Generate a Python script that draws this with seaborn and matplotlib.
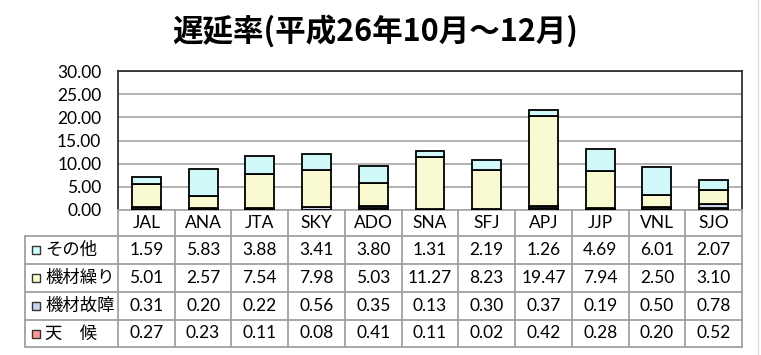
import matplotlib
matplotlib.use("Agg")
import matplotlib.pyplot as plt
from matplotlib.lines import Line2D
from matplotlib.patches import Rectangle
import seaborn as sns

# data
airlines = ["JAL", "ANA", "JTA", "SKY", "ADO", "SNA", "SFJ", "APJ", "JJP", "VNL", "SJO"]
tenkou = [0.27, 0.23, 0.11, 0.08, 0.41, 0.11, 0.02, 0.42, 0.28, 0.20, 0.52]
kizai_koshou = [0.31, 0.20, 0.22, 0.56, 0.35, 0.13, 0.30, 0.37, 0.19, 0.50, 0.78]
kizai_kuri = [5.01, 2.57, 7.54, 7.98, 5.03, 11.27, 8.23, 19.47, 7.94, 2.50, 3.10]
sonota = [1.59, 5.83, 3.88, 3.41, 3.80, 1.31, 2.19, 1.26, 4.69, 6.01, 2.07]

# stacking order bottom -> top
series = [
    ("天\u3000候", tenkou, "#FF9999"),
    ("機材故障", kizai_koshou, "#C6D4EF"),
    ("機材繰り", kizai_kuri, "#FFFFCC"),
    ("その他", sonota, "#CCFFFF"),
]

sns.set_theme(style="white")
plt.rcParams["font.family"] = ["Lato", "Noto Sans CJK JP", "DejaVu Sans"]
plt.rcParams["text.color"] = "black"
plt.rcParams["ytick.labelcolor"] = "black"

W, H = 761, 355
fig = plt.figure(figsize=(W / 100, H / 100), dpi=100)

px_l, px_r, px_t, px_b = 118, 742, 71, 210
ax = fig.add_axes([px_l / W, 1 - px_b / H, (px_r - px_l) / W, (px_b - px_t) / H])

bottom = [0.0] * len(airlines)
for name, vals, col in series:
    sns.barplot(x=airlines, y=vals, bottom=bottom, color=col, edgecolor="black",
                linewidth=1.3, width=0.51, ax=ax, zorder=3)
    bottom = [b + v for b, v in zip(bottom, vals)]

ax.set_xlim(-0.5, len(airlines) - 0.5)
ax.set_ylim(0, 30)
ax.set_yticks([0, 5, 10, 15, 20, 25, 30])
ax.set_yticklabels([f"{v:.2f}" for v in [0, 5, 10, 15, 20, 25, 30]], fontsize=12.5)
ax.tick_params(axis="y", length=0, pad=12)
ax.set_xticks([])
ax.grid(axis="y", color="#A6A6A6", linewidth=1.2, zorder=0)
for s in ["top", "left", "right"]:
    ax.spines[s].set_color("#222222")
    ax.spines[s].set_linewidth(1.2)
ax.spines["bottom"].set_color("#A6A6A6")
ax.spines["bottom"].set_linewidth(1.2)

# data table
tb_l, tb_b = 25, 347
cw = (px_r - px_l) / len(airlines)
xl = (px_l - tb_l) / cw
tax = fig.add_axes([tb_l / W, 1 - tb_b / H, (px_r - tb_l) / W, (tb_b - px_b) / H])
tax.set_xlim(-xl, len(airlines))
tax.set_ylim(0, tb_b - px_b)
tax.axis("off")

gc = "#A0A0A0"
top = tb_b - px_b
cat_bot = top - 26
row_edges = [cat_bot, cat_bot - 28, cat_bot - 56, cat_bot - 84, 0]

for i in range(len(airlines) + 1):
    tax.plot([i, i], [0, top], color=gc, lw=1.3, clip_on=False)
tax.plot([-xl, -xl], [0, cat_bot], color=gc, lw=1.3, clip_on=False)
for y in row_edges:
    tax.plot([-xl, len(airlines)], [y, y], color=gc, lw=1.3, clip_on=False)

for i, a in enumerate(airlines):
    tax.text(i + 0.5, (top + cat_bot) / 2, a, ha="center", va="center", fontsize=12.5)

for r, (name, vals, col) in enumerate(reversed(series)):
    yc = (row_edges[r] + row_edges[r + 1]) / 2
    sq = 8 / cw
    tax.add_patch(Rectangle((-xl + 7 / cw, yc - 4), sq, 8, facecolor=col,
                            edgecolor="#333333", lw=1, clip_on=False))
    tax.text(-xl + 20 / cw, yc, name, ha="left", va="center", fontsize=12.5,
             family=["Noto Sans CJK JP", "DejaVu Sans"])
    for i, v in enumerate(vals):
        tax.text(i + 0.5, yc, f"{v:.2f}", ha="center", va="center", fontsize=12.5)

fig.text(375 / W, 1 - 31 / H, "遅延率(平成26年10月～12月)", ha="center", va="center",
         fontsize=22, fontweight="bold", family=["Noto Sans CJK JP", "DejaVu Sans"])

fig.add_artist(Line2D([757.5 / W, 757.5 / W], [0, 1], color="#DDDDDD", lw=1))

fig.savefig("out.png", dpi=100)
